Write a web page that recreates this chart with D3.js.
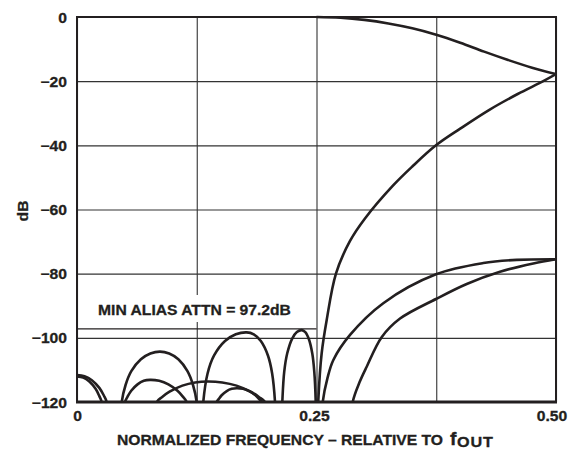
<!DOCTYPE html>
<html><head><meta charset="utf-8">
<script src="https://cdn.jsdelivr.net/npm/d3@7/dist/d3.min.js"></script>
<style>
body{margin:0;background:#fff}
text{font-family:"Liberation Sans",Arial,Helvetica,sans-serif;font-weight:bold;fill:#231f20;stroke:#231f20;stroke-width:0.3px}
</style>
</head><body>
<svg id="c" width="579" height="450"></svg>
<script>
// ---- data ----
const xTickValues = [0, 0.125, 0.25, 0.375, 0.5];
const xTickLabels = ["0", "", "0.25", "", "0.50"];
const yTickValues = [0, -20, -40, -60, -80, -100, -120];
const yTickLabels = ["0", "\u221220", "\u221240", "\u221260", "\u221280", "\u2212100", "\u2212120"];
const minAliasAttn = -97.2;
const minAliasLabel = "MIN ALIAS ATTN = 97.2dB";
const yTitle = "dB";
const xTitleMain = "NORMALIZED FREQUENCY \u2013 RELATIVE TO";
const xTitleF = "f";
const xTitleSub = "OUT";

// passband image: 0 dB at 0.25 rolling to about -17.8 dB at 0.50
const passbandImage = [[0.25,0],[0.275,-0.22],[0.3,-0.9],[0.325,-2.0],[0.35,-3.5],[0.375,-5.5],[0.4,-8.0],[0.425,-10.8],[0.45,-13.4],[0.475,-15.8],[0.5,-17.8]];

// response 1: sidelobes up to -97.2 dB, null at 0.25 and rising image
const response1 = [
 [0,-111.6],[0.0078,-112.0],[0.0155,-113.2],[0.0233,-115.6],[0.0279,-117.9],[0.031,-120],[0.0335,-135],
 [0.044,-135],[0.0467,-120],[0.0507,-114.7],[0.0567,-110.4],[0.0667,-106.7],[0.0766,-104.9],[0.0866,-104.3],[0.0962,-104.9],[0.1058,-106.7],[0.1153,-110.4],[0.1211,-114.7],[0.1249,-120],[0.1276,-135],
 [0.1295,-135],[0.1318,-120],[0.1363,-111.1],[0.1431,-105.5],[0.1545,-101.0],[0.1658,-98.9],[0.1771,-98.3],[0.1845,-98.9],[0.1919,-101.0],[0.1993,-105.5],[0.2037,-111.1],[0.2067,-120],[0.2082,-135],
 [0.2125,-135],[0.2143,-120],[0.2163,-110.6],[0.2194,-104.9],[0.2245,-100.3],[0.2295,-98.2],[0.2346,-97.6],[0.2383,-98.2],[0.2419,-100.3],[0.2456,-104.9],[0.2477,-110.6],[0.2492,-120],[0.25,-140],
 [0.2519,-119.4],[0.2554,-104.8],[0.2606,-94.5],[0.2704,-79.9],[0.285,-69.8],[0.3006,-62.8],[0.33,-52.5],[0.35,-46.6],[0.3747,-40],[0.4,-34.8],[0.43,-29.0],[0.46,-24.0],[0.4867,-20.0],[0.5,-17.8]
];

// response 2
const response2 = [
 [0,-112],[0.0065,-112.4],[0.0129,-113.6],[0.0194,-115.9],[0.0232,-118.1],[0.0258,-120],[0.028,-128],
 [0.0485,-126],[0.0501,-120],[0.0527,-118.4],[0.0566,-116.5],[0.0632,-114.5],[0.0697,-113.4],[0.0762,-113.1],[0.0858,-113.4],[0.0954,-114.5],[0.1049,-116.5],[0.1107,-118.4],[0.1145,-120],[0.117,-126],
 [0.144,-124],[0.1458,-120],[0.1479,-119.1],[0.151,-117.9],[0.1563,-116.6],[0.1615,-115.9],[0.1667,-115.7],[0.1732,-115.9],[0.1798,-116.6],[0.1863,-117.9],[0.1902,-119.1],[0.1928,-120],[0.195,-124],
 [0.286,-128],[0.2878,-120],[0.295,-113.8],[0.3024,-109],[0.318,-99.8],[0.3372,-94.0],[0.3747,-87.9],[0.4068,-83.2],[0.4415,-79.4],[0.4763,-76.8],[0.5,-75.5]
];

// response 3
const response3 = [
 [0.081,-125],[0.0832,-120],[0.0886,-118.5],[0.0966,-116.8],[0.11,-114.9],[0.1233,-113.9],[0.1367,-113.6],[0.1516,-113.9],[0.1665,-114.9],[0.1813,-116.8],[0.1902,-118.5],[0.1962,-120],[0.1985,-125],
 [0.255,-128],[0.2565,-120],[0.2615,-112.5],[0.2676,-106.9],[0.285,-99.1],[0.3197,-89.2],[0.3747,-80.2],[0.4241,-76.7],[0.459,-75.7],[0.5,-75.5]
];

const seriesList = [passbandImage, response1, response2, response3];

// ---- drawing ----
const ink = "#231f20";
const SX = 1.08, FS = 14.5;
const x = d3.scaleLinear().domain([0, 0.5]).range([77, 556]);
const y = d3.scaleLinear().domain([-120, 0]).range([402, 17]);
const svg = d3.select("#c");

// grid
const gGridX = svg.append("g").attr("transform", `translate(0,${y(-120)})`)
  .call(d3.axisBottom(x).tickValues(xTickValues).tickSize(-(y(-120) - y(0))).tickFormat(""));
const gGridY = svg.append("g").attr("transform", `translate(${x(0)},0)`)
  .call(d3.axisLeft(y).tickValues(yTickValues).tickSize(-(x(0.5) - x(0))).tickFormat(""));
[gGridX, gGridY].forEach(g => {
  g.select(".domain").remove();
  g.selectAll(".tick line").attr("stroke", "#333").attr("stroke-width", 1.1);
});

// tick labels
const gLabX = svg.append("g").attr("transform", `translate(0,${y(-120)})`)
  .call(d3.axisBottom(x).tickValues(xTickValues).tickSize(0).tickFormat((d, i) => xTickLabels[i]));
gLabX.select(".domain").remove();
gLabX.selectAll("text")
  .attr("y", 19).attr("dy", 0)
  .attr("x", (d, i) => [0, 0, -2.5, 0, -4.5][i] / SX)
  .attr("transform", `scale(${SX},1)`)
  .style("font-size", FS + "px").attr("fill", ink);

const gLabY = svg.append("g").attr("transform", `translate(${x(0)},0)`)
  .call(d3.axisLeft(y).tickValues(yTickValues).tickSize(0).tickFormat((d, i) => yTickLabels[i]));
gLabY.select(".domain").remove();
gLabY.selectAll("text")
  .attr("x", -10 / SX).attr("dy", "0.35em")
  .attr("transform", `scale(${SX},1)`)
  .style("font-size", FS + "px").attr("fill", ink);
[gLabX, gLabY].forEach(g => g.attr("font-family", null).attr("font-size", null));

// min alias annotation: white box, label, line
svg.append("rect").attr("x", 92).attr("y", 295).attr("width", 206).attr("height", 27).attr("fill", "#fff");
svg.append("text")
  .attr("transform", `translate(194.5,315) scale(${SX},1)`)
  .attr("text-anchor", "middle").style("font-size", FS + "px").text(minAliasLabel);
svg.append("line")
  .attr("x1", x(0)).attr("x2", x(0.25))
  .attr("y1", y(minAliasAttn)).attr("y2", y(minAliasAttn))
  .attr("stroke", ink).attr("stroke-width", 1.3);

// curves
svg.append("defs").append("clipPath").attr("id", "plotclip")
  .append("rect").attr("x", x(0)).attr("y", y(0) - 2).attr("width", x(0.5) - x(0)).attr("height", y(-120) - y(0) + 2);
const line = d3.line().x(d => x(d[0])).y(d => y(d[1])).curve(d3.curveCatmullRom.alpha(0.5));
svg.append("g").attr("clip-path", "url(#plotclip)")
  .selectAll("path").data(seriesList).join("path")
  .attr("d", line).attr("fill", "none").attr("stroke", ink)
  .attr("stroke-width", 2.6).attr("stroke-linejoin", "round");

// frame
svg.append("rect").attr("x", x(0)).attr("y", y(0)).attr("width", x(0.5) - x(0)).attr("height", y(-120) - y(0))
  .attr("fill", "none").attr("stroke", ink).attr("stroke-width", 2);
svg.append("line").attr("x1", x(0) - 1).attr("x2", x(0.5) + 1).attr("y1", y(-120)).attr("y2", y(-120))
  .attr("stroke", ink).attr("stroke-width", 3);

// axis titles
svg.append("text")
  .attr("transform", `translate(28,211) rotate(-90) scale(${SX},1)`)
  .attr("text-anchor", "middle").style("font-size", FS + "px").text(yTitle);
svg.append("text")
  .attr("transform", `translate(117,445) scale(${SX},1)`)
  .attr("text-anchor", "start").style("font-size", FS + "px").text(xTitleMain);
const t2 = svg.append("text")
  .attr("transform", `translate(450,445) scale(${SX},1)`)
  .attr("text-anchor", "start");
t2.append("tspan").style("font-size", "18px").text(xTitleF);
t2.append("tspan").style("font-size", "15px").attr("dy", 1.5).attr("dx", 0.5).attr("letter-spacing", 0.8).text(xTitleSub);
</script>
</body></html>
